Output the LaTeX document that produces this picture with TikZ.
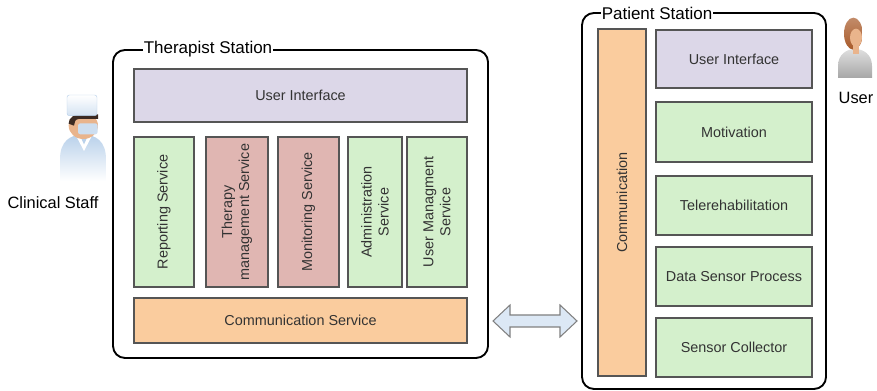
\documentclass[tikz,border=0pt]{standalone}
\usepackage{fontspec}
\setmainfont{Liberation Sans}
\usepackage{tikz}
\definecolor{hexcolor0xdcd7e8}{rgb}{0.863,0.843,0.910}
\definecolor{hexcolor0xd4f0cc}{rgb}{0.831,0.941,0.800}
\definecolor{hexcolor0xe0b6b2}{rgb}{0.878,0.714,0.698}
\definecolor{hexcolor0xfacc9e}{rgb}{0.980,0.800,0.620}
\definecolor{hexcolor0xdce8f5}{rgb}{0.863,0.910,0.961}
\definecolor{hexcolor0x555555}{rgb}{0.333,0.333,0.333}
\definecolor{hexcolor0x333333}{rgb}{0.200,0.200,0.200}
\definecolor{hexcolor0x808080}{rgb}{0.502,0.502,0.502}
\definecolor{hexcolor0xe9b48c}{rgb}{0.914,0.706,0.549}
\definecolor{hexcolor0xb8d0ea}{rgb}{0.722,0.816,0.918}
\definecolor{hexcolor0x3b2a22}{rgb}{0.231,0.165,0.133}
\definecolor{hexcolor0xa85a2a}{rgb}{0.659,0.353,0.165}
\definecolor{myblack}{rgb}{0.000,0.000,0.000}
\definecolor{mywhite}{rgb}{1.000,1.000,1.000}
\tikzstyle{station}=[rectangle,draw=myblack,line width=1.6pt,rounded corners=0.36cm]
\tikzstyle{stationtitle}=[fill=mywhite,inner sep=1pt,font=\fontsize{14.5}{16}\selectfont]
\tikzstyle{block}=[rectangle,draw=hexcolor0x555555,line width=1.1pt,text=hexcolor0x333333,inner sep=0pt,align=center,font=\fontsize{12.3}{14.5}\selectfont]
\tikzstyle{ui}=[block,fill=hexcolor0xdcd7e8]
\tikzstyle{service}=[block,fill=hexcolor0xd4f0cc]
\tikzstyle{therapy}=[block,fill=hexcolor0xe0b6b2]
\tikzstyle{comm}=[block,fill=hexcolor0xfacc9e]
\tikzstyle{actor}=[font=\fontsize{14}{16}\selectfont]
\tikzstyle{link}=[draw=hexcolor0x808080,fill=hexcolor0xdce8f5,line width=0.9pt,line join=miter]

\begin{document}
\begin{tikzpicture}
	\useasboundingbox (0,0) rectangle (26.31,11.73);
	% therapist side
		\node [style=station, minimum width=11.25cm, minimum height=9.24cm] (0) at (9.015, 5.61) {};
		\node [style=stationtitle] (1) at (6.24, 10.26) {Therapist Station};
		\node [style=ui, minimum width=9.99cm, minimum height=1.59cm] (2) at (9.015, 8.865) {User Interface};
		\node [style=service, rotate=90, minimum width=4.5cm, minimum height=1.8cm] (3) at (4.92, 5.37) {Reporting Service};
		\node [style=therapy, rotate=90, minimum width=4.5cm, minimum height=1.86cm] (4) at (7.11, 5.37) {Therapy\\management Service};
		\node [style=therapy, rotate=90, minimum width=4.5cm, minimum height=1.83cm] (5) at (9.255, 5.37) {Monitoring Service};
		\node [style=service, rotate=90, minimum width=4.5cm, minimum height=1.62cm] (6) at (11.25, 5.37) {Administration\\Service};
		\node [style=service, rotate=90, minimum width=4.5cm, minimum height=1.8cm] (7) at (13.11, 5.37) {User Managment\\Service};
		\node [style=comm, minimum width=9.99cm, minimum height=1.35cm] (8) at (9.015, 2.115) {Communication Service};
	% patient side
		\node [style=station, minimum width=7.32cm, minimum height=11.28cm] (9) at (21.12, 5.70) {};
		\node [style=stationtitle] (10) at (19.71, 11.34) {Patient Station};
		\node [style=comm, rotate=90, minimum width=10.41cm, minimum height=1.44cm] (11) at (18.66, 5.655) {Communication};
		\node [style=ui, minimum width=4.68cm, minimum height=1.74cm] (12) at (22.02, 9.96) {User Interface};
		\node [style=service, minimum width=4.68cm, minimum height=1.8cm] (13) at (22.02, 7.77) {Motivation};
		\node [style=service, minimum width=4.68cm, minimum height=1.77cm] (14) at (22.02, 5.565) {Telerehabilitation};
		\node [style=service, minimum width=4.68cm, minimum height=1.77cm] (15) at (22.02, 3.435) {Data Sensor Process};
		\node [style=service, minimum width=4.68cm, minimum height=1.77cm] (16) at (22.02, 1.305) {Sensor Collector};
	% link between the stations
		\coordinate (17) at (14.79, 2.10);
		\filldraw [style=link] (17) -- ++(0.51,0.48) -- ++(0,-0.30) -- ++(1.50,0) -- ++(0,0.30) -- ++(0.51,-0.48) -- ++(-0.51,-0.48) -- ++(0,0.30) -- ++(-1.50,0) -- ++(0,-0.30) -- cycle;
	% clinical staff
		\shade[top color=hexcolor0xb8d0ea, bottom color=mywhite] (1.80,6.30) -- (1.80,6.95) .. controls (1.80,7.50) and (2.10,7.68) .. (2.49,7.70) .. controls (2.88,7.68) and (3.18,7.50) .. (3.18,6.95) -- (3.18,6.30) -- cycle;
		\fill[mywhite] (2.28,7.66) -- (2.52,7.20) -- (2.76,7.66) -- cycle;
		\fill[hexcolor0xb8d0ea] (2.40,7.66) -- (2.52,7.40) -- (2.64,7.66) -- cycle;
		\fill[hexcolor0xe9b48c] (2.50,7.96) ellipse (0.44 and 0.40);
		\fill[hexcolor0x3b2a22] (2.06,8.02) .. controls (2.06,8.20) and (2.20,8.30) .. (2.50,8.30) -- (2.94,8.30) -- (2.94,8.16) -- (2.36,8.16) .. controls (2.26,8.16) and (2.22,8.05) .. (2.22,7.96) -- cycle;
		\shade[top color=mywhite, bottom color=hexcolor0xb8d0ea!60, draw=hexcolor0xb8d0ea, rounded corners=2pt] (2.01,8.26) rectangle (2.91,8.88);
		\fill[hexcolor0xb8d0ea!70, rounded corners=2pt] (2.34,7.70) rectangle (2.93,8.03);
		\node [style=actor] (18) at (1.59, 5.64) {Clinical Staff};
	% user
		\shade[top color=hexcolor0x808080!25, bottom color=hexcolor0x808080!70] (25.14,9.39) -- (25.14,9.75) .. controls (25.14,10.10) and (25.40,10.26) .. (25.65,10.26) .. controls (25.90,10.26) and (26.16,10.10) .. (26.16,9.75) -- (26.16,9.39) -- cycle;
		\shade[top color=hexcolor0xa85a2a!70, bottom color=hexcolor0xa85a2a] (25.60,10.72) ellipse (0.28 and 0.48);
		\fill[hexcolor0xe9b48c] (25.58,10.10) rectangle (25.76,10.40);
		\fill[hexcolor0xe9b48c] (25.68,10.60) ellipse (0.18 and 0.27);
		\node [style=actor] (19) at (25.68, 8.79) {User};
\end{tikzpicture}
\end{document}
